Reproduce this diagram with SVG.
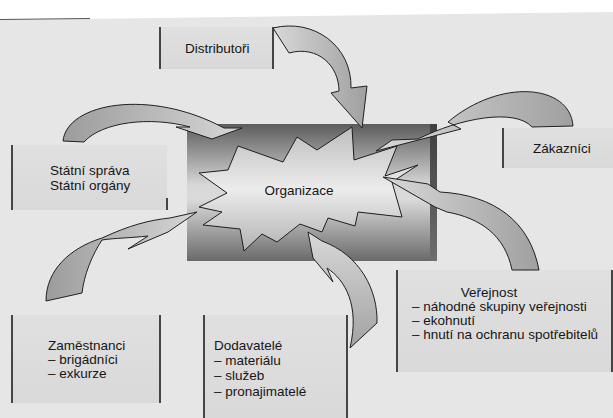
<svg xmlns="http://www.w3.org/2000/svg" width="613" height="418" viewBox="0 0 613 418">
  <defs>
    <linearGradient id="orgBox" x1="0" y1="0" x2="0" y2="1">
      <stop offset="0" stop-color="#5c5c5c"/>
      <stop offset="0.45" stop-color="#d8d8d8"/>
      <stop offset="0.55" stop-color="#dadada"/>
      <stop offset="1" stop-color="#6a6a6a"/>
    </linearGradient>
    <linearGradient id="burst" x1="0" y1="0" x2="0" y2="1">
      <stop offset="0" stop-color="#bdbdbd"/>
      <stop offset="0.5" stop-color="#ececec"/>
      <stop offset="1" stop-color="#b2b2b2"/>
    </linearGradient>
    <linearGradient id="edge" x1="0" y1="0" x2="0" y2="1">
      <stop offset="0" stop-color="#3f3f3f"/>
      <stop offset="1" stop-color="#6e6e6e"/>
    </linearGradient>
    <linearGradient id="arrowL" x1="0" y1="0" x2="1" y2="0">
      <stop offset="0" stop-color="#9c9c9c"/>
      <stop offset="1" stop-color="#d6d6d6"/>
    </linearGradient>
    <linearGradient id="arrowR" x1="1" y1="0" x2="0" y2="0">
      <stop offset="0" stop-color="#a0a0a0"/>
      <stop offset="1" stop-color="#d8d8d8"/>
    </linearGradient>
    <linearGradient id="arrowV" x1="0" y1="1" x2="0" y2="0">
      <stop offset="0" stop-color="#a2a2a2"/>
      <stop offset="1" stop-color="#d8d8d8"/>
    </linearGradient>
    <linearGradient id="boxFill" x1="0" y1="0" x2="0" y2="1">
      <stop offset="0" stop-color="#e0e0e0"/>
      <stop offset="1" stop-color="#d9d9d9"/>
    </linearGradient>
  </defs>
  <style>
    .box { fill: url(#boxFill); }
    .side { stroke: #1e1e1e; stroke-width: 1.6; fill: none; }
    .lbl { font-family: "Liberation Sans", Arial, sans-serif; font-size: 13.5px; fill: #161616; }
    .arrow { stroke: #202020; stroke-width: 1; stroke-linejoin: miter; }
  </style>

  <!-- page -->
  <rect x="0" y="0" width="613" height="418" fill="#ffffff"/>
  <polygon points="0,20 613,12 613,418 0,418" fill="#e6e6e6"/>
  <line x1="0" y1="19.5" x2="90" y2="18.5" stroke="#555" stroke-width="1"/>

  <!-- outer nodes -->
  <g id="distributori">
    <rect class="box" x="160" y="27" width="113" height="42"/>
    <line class="side" x1="160" y1="27" x2="160" y2="69"/>
    <line class="side" x1="273" y1="27" x2="273" y2="69"/>
    <text class="lbl" x="185" y="53">Distributoři</text>
  </g>

  <g id="statni">
    <rect class="box" x="12" y="145" width="155" height="65"/>
    <line class="side" x1="12" y1="145" x2="12" y2="210"/>
    <line class="side" x1="167" y1="198" x2="167" y2="210"/>
    <text class="lbl" x="50" y="175">Státní správa</text>
    <text class="lbl" x="50" y="189.5">Státní orgány</text>
  </g>

  <g id="zakaznici">
    <rect class="box" x="503" y="128" width="110" height="40"/>
    <line class="side" x1="503" y1="128" x2="503" y2="168"/>
    <text class="lbl" x="533" y="153">Zákazníci</text>
  </g>

  <g id="verejnost">
    <rect class="box" x="397" y="270" width="215" height="102"/>
    <line class="side" x1="397" y1="270" x2="397" y2="372"/>
    <line class="side" x1="612" y1="270" x2="612" y2="372"/>
    <text class="lbl" x="489" y="297" text-anchor="middle">Veřejnost</text>
    <text class="lbl" x="412" y="311">– náhodné skupiny veřejnosti</text>
    <text class="lbl" x="412" y="325">– ekohnutí</text>
    <text class="lbl" x="412" y="339">– hnutí na ochranu spotřebitelů</text>
  </g>

  <g id="zamestnanci">
    <rect class="box" x="12" y="315" width="148" height="88"/>
    <line class="side" x1="12" y1="315" x2="12" y2="403"/>
    <line class="side" x1="160" y1="315" x2="160" y2="403"/>
    <text class="lbl" x="48" y="350">Zaměstnanci</text>
    <text class="lbl" x="48" y="364">– brigádníci</text>
    <text class="lbl" x="48" y="378">– exkurze</text>
  </g>

  <g id="dodavatele">
    <rect class="box" x="204" y="315" width="143" height="103"/>
    <line class="side" x1="204" y1="315" x2="204" y2="418"/>
    <line class="side" x1="347" y1="315" x2="347" y2="418"/>
    <text class="lbl" x="214" y="350">Dodavatelé</text>
    <text class="lbl" x="214" y="365">– materiálu</text>
    <text class="lbl" x="214" y="380">– služeb</text>
    <text class="lbl" x="214" y="395.5">– pronajimatelé</text>
  </g>

  <!-- central node -->
  <g id="organizace">
    <rect x="187" y="124" width="250" height="137" fill="url(#orgBox)"/>
    <rect x="430" y="124" width="7" height="137" fill="url(#edge)"/>
    <polygon points="228,170 238,146 283,162 297,137 317,150 352,127 354,160 397,146 385,176 418,165 392,182 402,217 358,212 355,226 328,218 322,232 300,224 277,242 262,234 244,251 240,229 203,225 222,212 199,207 227,193 199,173"
             fill="url(#burst)" stroke="#1e1e1e" stroke-width="1"/>
  </g>

  <!-- connectors: curved block arrows -->
  <g id="connectors">
    <!-- Distributoři -> Organizace -->
    <path class="arrow" fill="url(#arrowR)"
          d="M273,28 C314,18 352,46 351,88 L367,86 L362,128 L331,93 L339,91 C339,66 318,45 289,53 Z"/>
    <!-- Státní správa -> Organizace -->
    <path class="arrow" fill="url(#arrowL)"
          d="M63,141 C67,103 150,88 224,128 L242,128 L212,139 L176,127 L190,127 C150,116 102,122 84,142 Z"/>
    <!-- Zákazníci -> Organizace -->
    <path class="arrow" fill="url(#arrowR)"
          d="M573,126 C570,84 500,78 448,122 L461,129 L376,151 L392,140 L418,139 C460,118 515,108 532,127 Z"/>
    <!-- Veřejnost -> Organizace -->
    <path class="arrow" fill="url(#arrowR)"
          d="M539,270 C530,222 495,195 440,192 L428,184 L383,177 L435,207 L447,212 C480,218 505,235 512,270 Z"/>
    <!-- Zaměstnanci -> Organizace -->
    <path class="arrow" fill="url(#arrowL)"
          d="M46,301 C46,270 70,248 102,238 C130,225 150,220 170,218 L197,212 L168,232 L128,249 L148,236 C130,238 115,238 102,240 C92,255 84,275 82,293 Z"/>
    <!-- Dodavatelé -> Organizace -->
    <path class="arrow" fill="url(#arrowV)"
          d="M308,232 L313,258 L333,282 L327,268 C345,280 360,305 350,348 L377,323 C378,290 360,255 322,241 Z"/>
  </g>

  <text class="lbl" x="299" y="195" text-anchor="middle">Organizace</text>
</svg>
